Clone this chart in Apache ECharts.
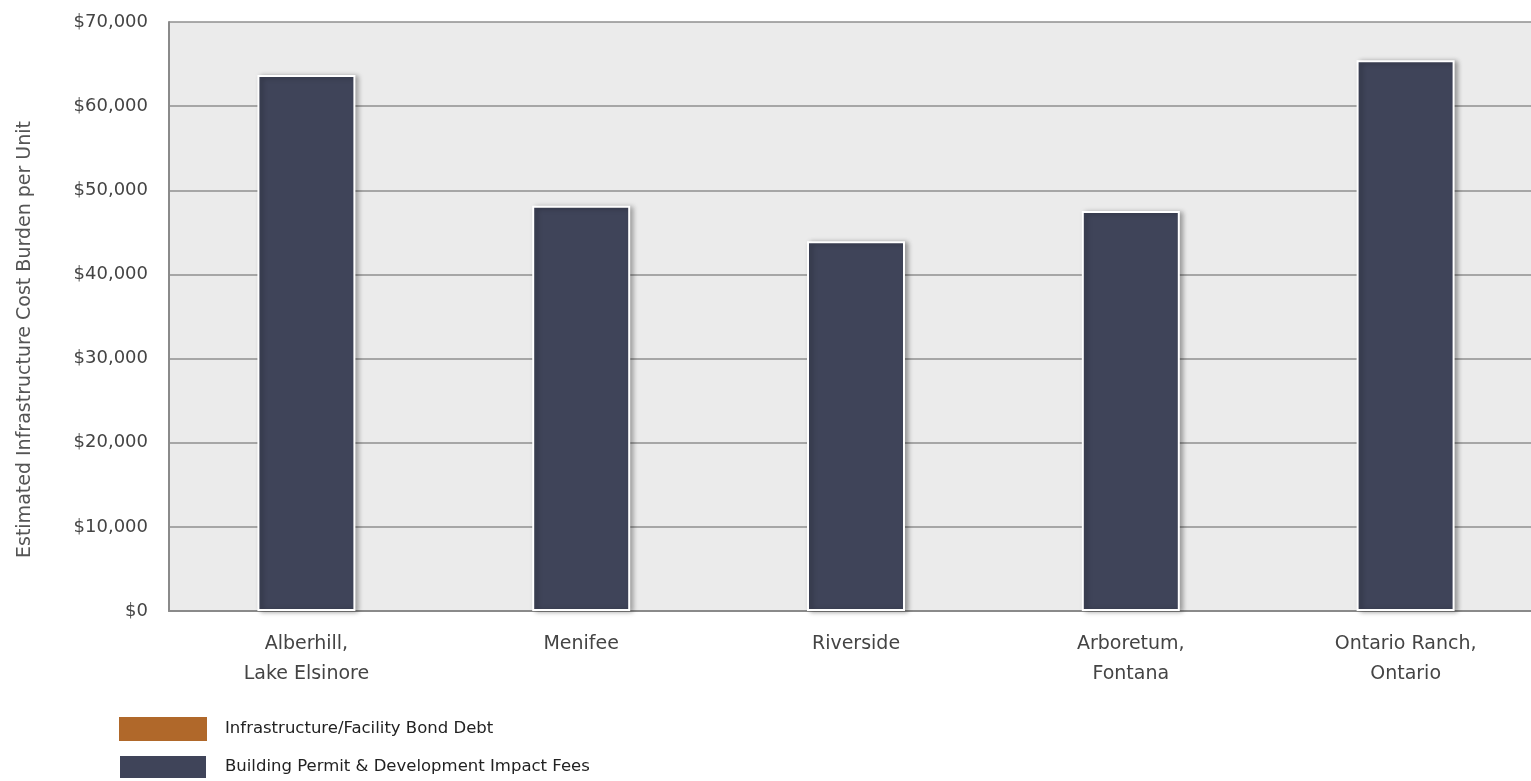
<!DOCTYPE html>
<html>
<head>
<meta charset="utf-8">
<script src="https://cdn.jsdelivr.net/npm/echarts@6/dist/echarts.min.js"></script>
<style>html,body{margin:0;padding:0;background:#fff;}#c{width:1531px;height:781px;}</style>
</head>
<body>
<div id="c"></div>
<script>
const categories = ['Alberhill,\nLake Elsinore', 'Menifee', 'Riverside', 'Arboretum,\nFontana', 'Ontario Ranch,\nOntario'];
const bondDebt = [0, 0, 0, 0, 0];
const impactFees = [63700, 48150, 43950, 47550, 65450];
const yTicks = [0, 10000, 20000, 30000, 40000, 50000, 60000, 70000];

const chart = echarts.init(document.getElementById('c'));
const font = '"DejaVu Sans", sans-serif';
chart.setOption({
  animation: false,
  textStyle: { fontFamily: font },
  grid: { left: 169, width: 1374, top: 22, height: 589, show: true, backgroundColor: '#EBEBEB', borderWidth: 0,
          outerBoundsMode: 'none', containLabel: false },
  legend: {
    orient: 'vertical', left: 118, top: 717, padding: 0, height: 70,
    itemWidth: 88, itemHeight: 24, itemGap: 13, icon: 'rect',
    textStyle: { fontFamily: font, fontSize: 16.5, color: '#222', padding: [0, 0, 0, 13] },
    data: ['Infrastructure/Facility Bond Debt', 'Building Permit & Development Impact Fees']
  },
  xAxis: {
    type: 'category', data: categories,
    axisLine: { show: true, lineStyle: { color: '#8a8a8a', width: 2 } },
    axisTick: { show: false },
    axisLabel: { fontSize: 19, color: '#444', lineHeight: 30, margin: 18, fontFamily: font }
  },
  yAxis: {
    type: 'value', min: yTicks[0], max: yTicks[yTicks.length - 1], interval: 10000,
    name: 'Estimated Infrastructure Cost Burden per Unit',
    nameLocation: 'middle', nameGap: 134, nameRotate: 90,
    nameTextStyle: { fontSize: 19, color: '#555', fontFamily: font, padding: [0, 46, 0, 0] },
    axisLine: { show: true, lineStyle: { color: '#8a8a8a', width: 2 } },
    axisTick: { show: false },
    splitLine: { show: true, lineStyle: { color: '#8f8f8f', width: 1.5 } },
    axisLabel: {
      fontSize: 18, color: '#444', margin: 21, fontFamily: font,
      formatter: v => '$' + v.toLocaleString('en-US')
    }
  },
  series: [
    { name: 'Infrastructure/Facility Bond Debt', type: 'bar', stack: 'a', data: bondDebt,
      itemStyle: { color: '#B0682A' }, barWidth: 98 },
    { name: 'Building Permit & Development Impact Fees', type: 'bar', stack: 'a', data: impactFees,
      barWidth: 98,
      itemStyle: { color: '#3F4459', borderColor: '#ffffff', borderWidth: 2,
        shadowColor: 'rgba(0,0,0,0.35)', shadowBlur: 5, shadowOffsetX: 3, shadowOffsetY: 1 } }
  ]
});
</script>
</body>
</html>
